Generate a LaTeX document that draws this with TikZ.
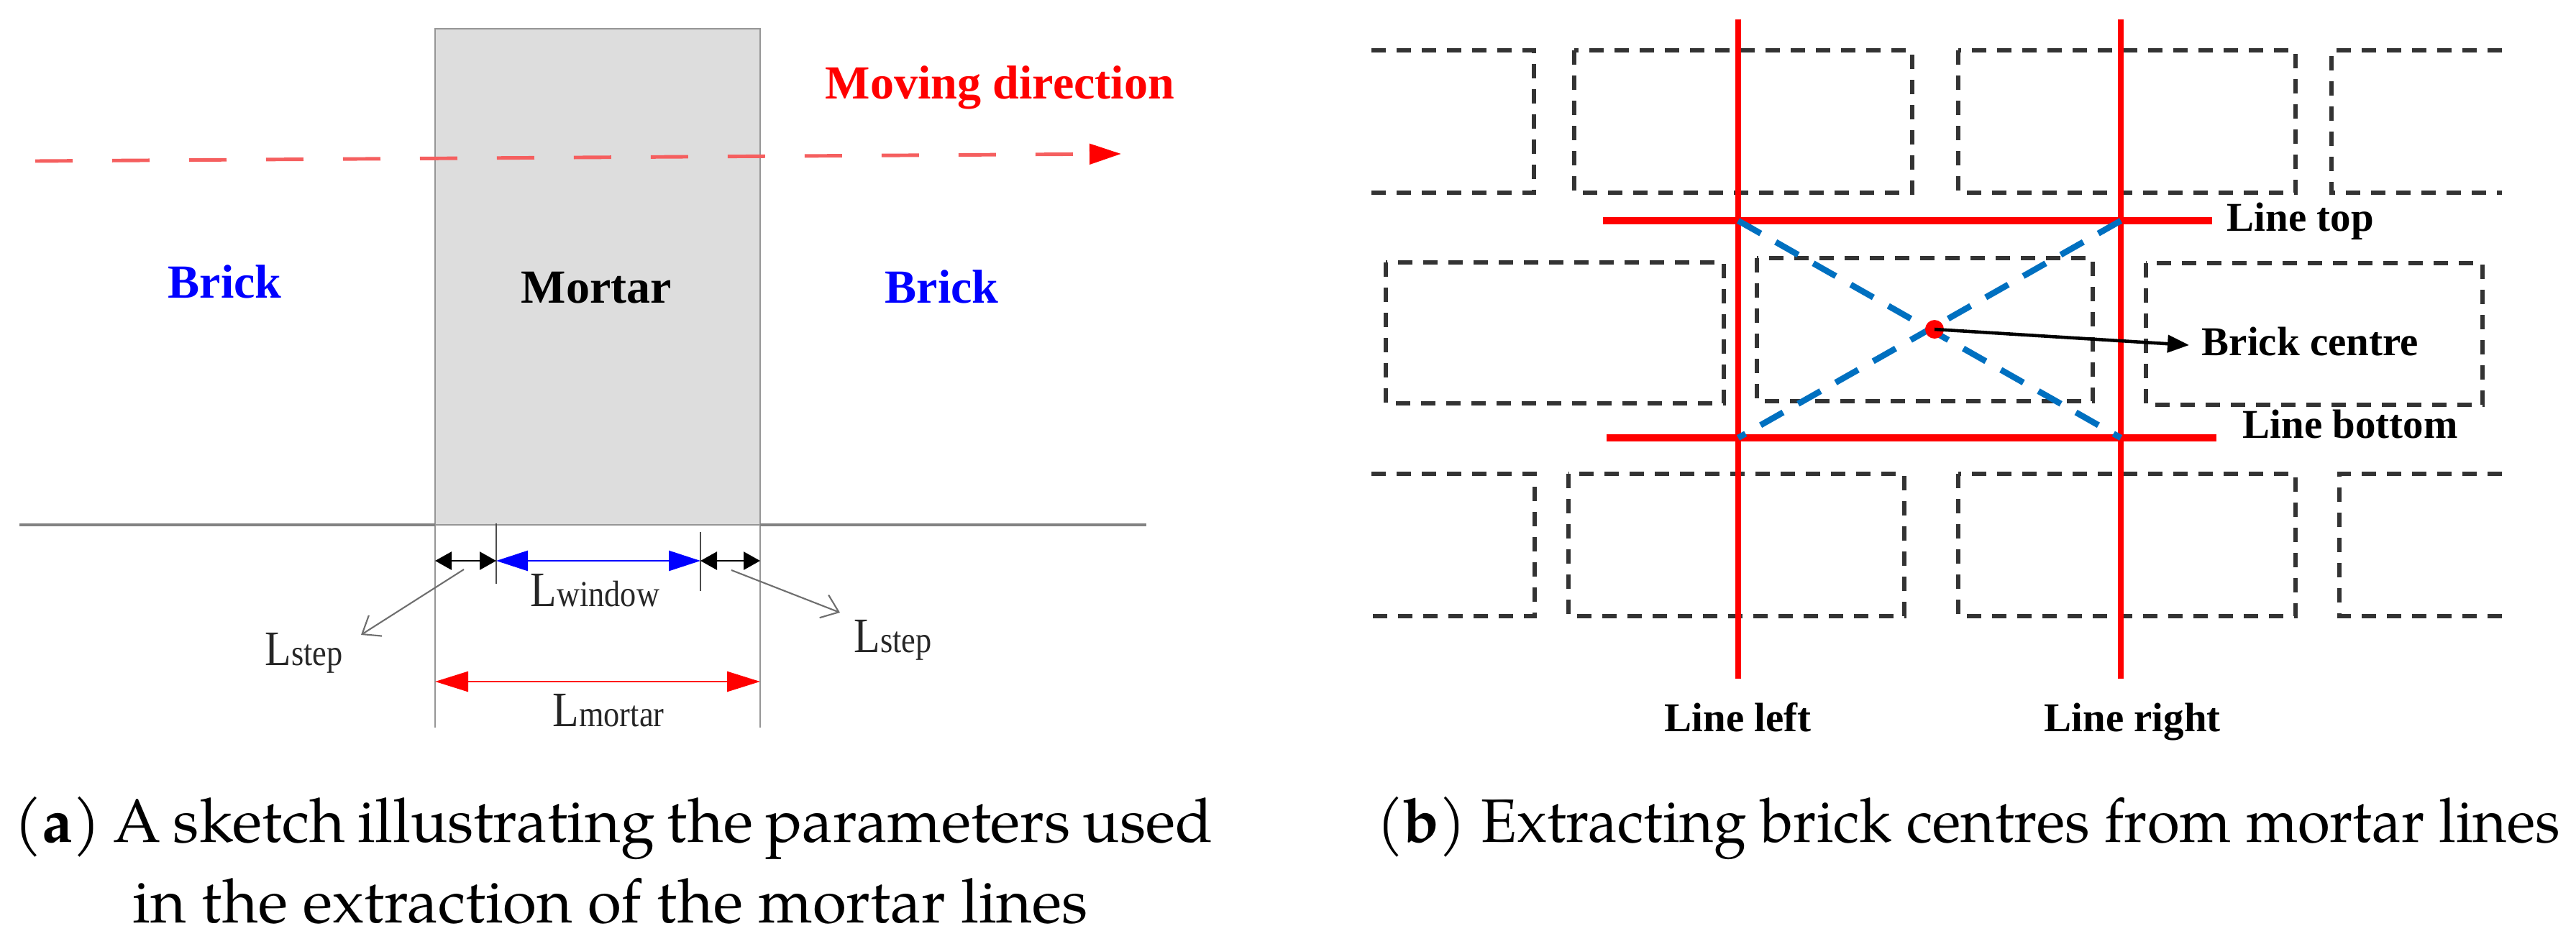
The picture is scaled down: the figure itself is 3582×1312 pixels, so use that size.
\documentclass[tikz,border=0pt]{standalone}
\usepackage{fontspec}
\setmainfont{Liberation Serif}
\newfontfamily\capfont{texgyrepagella}[Extension=.otf, UprightFont=*-regular, BoldFont=*-bold]
\usetikzlibrary{arrows.meta}
\definecolor{mgray}{RGB}{221,221,221}
\definecolor{edgegray}{RGB}{150,150,150}
\definecolor{basegray}{RGB}{130,130,130}
\definecolor{xblue}{RGB}{0,112,192}
\definecolor{movred}{RGB}{245,95,95}
\definecolor{ptrgray}{RGB}{110,110,110}
\newcommand{\Llab}[1]{\scalebox{0.87}[1]{\fontsize{19.6}{20}\selectfont L\fontsize{14.5}{15}\selectfont #1}}
\tikzset{
  boldA/.style={font=\fontsize{18.8}{20}\selectfont\bfseries, inner sep=0pt, anchor=base west},
  boldB/.style={font=\fontsize{16.2}{18}\selectfont\bfseries, inner sep=0pt, anchor=base west},
  llabel/.style={inner sep=0pt, anchor=base west, text=black!85},
  caplab/.style={font=\capfont\fontsize{24.3}{29}\selectfont, inner sep=0pt, anchor=base west},
  brickline/.style={black!80, line width=1.7pt, dash pattern=on 2mm off 1.5mm},
  redline/.style={red, line width=3.1pt},
  redvline/.style={red, line width=2.5pt},
  xline/.style={xblue, line width=2.4pt, dash pattern=on 3.6mm off 2.4mm},
  extline/.style={edgegray, line width=0.8pt},
  tickline/.style={black!70, line width=0.8pt},
  ptr/.style={ptrgray, line width=0.6pt, -{Straight Barb[length=2.2mm,width=3.4mm]}},
  smallarr/.style={black, line width=0.8pt, {Triangle[length=2.3mm,width=2.5mm]}-{Triangle[length=2.3mm,width=2.5mm]}},
  bluearr/.style={blue, line width=0.8pt, {Triangle[length=4.4mm,width=2.8mm]}-{Triangle[length=4.4mm,width=2.8mm]}},
  redarr/.style={red, line width=0.8pt, {Triangle[length=4.6mm,width=2.8mm]}-{Triangle[length=4.6mm,width=2.8mm]}},
  movarr/.style={movred, line width=1.4pt, dash pattern=on 5.2mm off 5.5mm, -{Triangle[length=4.4mm,width=2.8mm,fill=red,color=red]}},
}
\begin{document}
\begin{tikzpicture}[x=0.1mm,y=-0.1mm]
\useasboundingbox (0,0) rectangle (3582,1312);

% ---------------- Panel (a) ----------------
\fill[mgray] (605,40) rectangle (1057,730);
\draw[extline] (605,1012) -- (605,40) -- (1057,40) -- (1057,1012);
\coordinate (bl) at (27,730);
\coordinate (br) at (1594,730);
\draw[basegray, line width=1pt] (bl) -- (605,730);
\draw[basegray, line width=1pt] (1057,730) -- (br);
\draw[edgegray, line width=0.8pt] (605,730) -- (1057,730);

% moving direction arrow
\coordinate (ms) at (49,224);
\coordinate (me) at (1559,214);
\draw[movarr] (ms) -- (me);
\node[boldA, text=red] (mov) at (1147,137) {Moving direction};

\node[boldA, text=blue] (brickL) at (233,414) {Brick};
\node[boldA] (mortar) at (724,421) {Mortar};
\node[boldA, text=blue] (brickR) at (1230,421) {Brick};

% ticks
\coordinate (t1a) at (690,728); \coordinate (t1b) at (690,812);
\coordinate (t2a) at (974,740); \coordinate (t2b) at (974,822);
\draw[tickline] (t1a) -- (t1b);
\draw[tickline] (t2a) -- (t2b);

% dimension arrows
\coordinate (d0) at (605,780);
\coordinate (d1) at (690,780);
\coordinate (d2) at (974,780);
\coordinate (d3) at (1057,780);
\draw[smallarr] (d0) -- (d1);
\draw[bluearr] (d1) -- (d2);
\draw[smallarr] (d2) -- (d3);
\coordinate (m0) at (605,948);
\coordinate (m1) at (1057,948);
\draw[redarr] (m0) -- (m1);

\node[llabel] (lwin) at (737,843) {\Llab{window}};
\node[llabel] (lmor) at (768,1010) {\Llab{mortar}};
\node[llabel] (lstepL) at (368,925) {\Llab{step}};
\node[llabel] (lstepR) at (1187,907) {\Llab{step}};

\coordinate (pL0) at (645,792); \coordinate (pL1) at (502,883);
\coordinate (pR0) at (1017,793); \coordinate (pR1) at (1168,852);
\draw[ptr] (pL0) -- (pL1);
\draw[ptr] (pR0) -- (pR1);

% ---------------- Panel (b) ----------------
% row 1
\draw[brickline] (1907,70) -- (2133,70) -- (2133,268) -- (1907,268);
\draw[brickline] (2189,70) rectangle (2659,268);
\draw[brickline] (2723,70) rectangle (3192,268);
\draw[brickline] (3479,70) -- (3242,70) -- (3242,268) -- (3479,268);
% row 2
\draw[brickline] (1927,365) rectangle (2397,561);
\draw[brickline] (2443,359) rectangle (2910,558);
\draw[brickline] (2984,366) rectangle (3452,563);
% row 3
\draw[brickline] (1907,659) -- (2134,659) -- (2134,857) -- (1907,857);
\draw[brickline] (2181,659) rectangle (2648,857);
\draw[brickline] (2723,659) rectangle (3192,857);
\draw[brickline] (3479,659) -- (3253,659) -- (3253,857) -- (3479,857);

% red mortar lines
\coordinate (vl0) at (2417,27); \coordinate (vl1) at (2417,944);
\coordinate (vr0) at (2949,27); \coordinate (vr1) at (2949,944);
\coordinate (ht0) at (2229,307); \coordinate (ht1) at (3076,307);
\coordinate (hb0) at (2234,609); \coordinate (hb1) at (3082,609);
\draw[redvline] (vl0) -- (vl1);
\draw[redvline] (vr0) -- (vr1);
\draw[redline] (ht0) -- (ht1);
\draw[redline] (hb0) -- (hb1);

% diagonals
\coordinate (TL) at (2417,307); \coordinate (TR) at (2949,307);
\coordinate (BL) at (2417,609); \coordinate (BR) at (2949,609);
\draw[xline] (TL) -- (BR);
\draw[xline] (TR) -- (BL);

% brick centre
\node[circle, fill=red, minimum size=2.6mm, inner sep=0pt] (dot) at (2690,458) {};
\coordinate (bctip) at (3044,480);
\draw[black, line width=1.3pt, -{Triangle[length=3mm,width=2.4mm]}] (dot.center) -- (bctip);

\node[boldB] (ltop) at (3096,321) {Line top};
\node[boldB] (bcent) at (3061,494) {Brick centre};
\node[boldB] (lbot) at (3118,609) {Line bottom};
\node[boldB] (lleft) at (2314,1017) {Line left};
\node[boldB] (lright) at (2842,1017) {Line right};

% ---------------- Captions ----------------
\node[caplab] (capa1) at (19,1171) {\makebox[166.7mm][s]{(\textbf{a}) A sketch illustrating the parameters used}};
\node[caplab] (capa2) at (184,1283) {in the extraction of the mortar lines};
\node[caplab] (capb) at (1914,1171) {\resizebox{164.5mm}{\height}{(\textbf{b}) Extracting brick centres from mortar lines}};
\end{tikzpicture}
\end{document}
